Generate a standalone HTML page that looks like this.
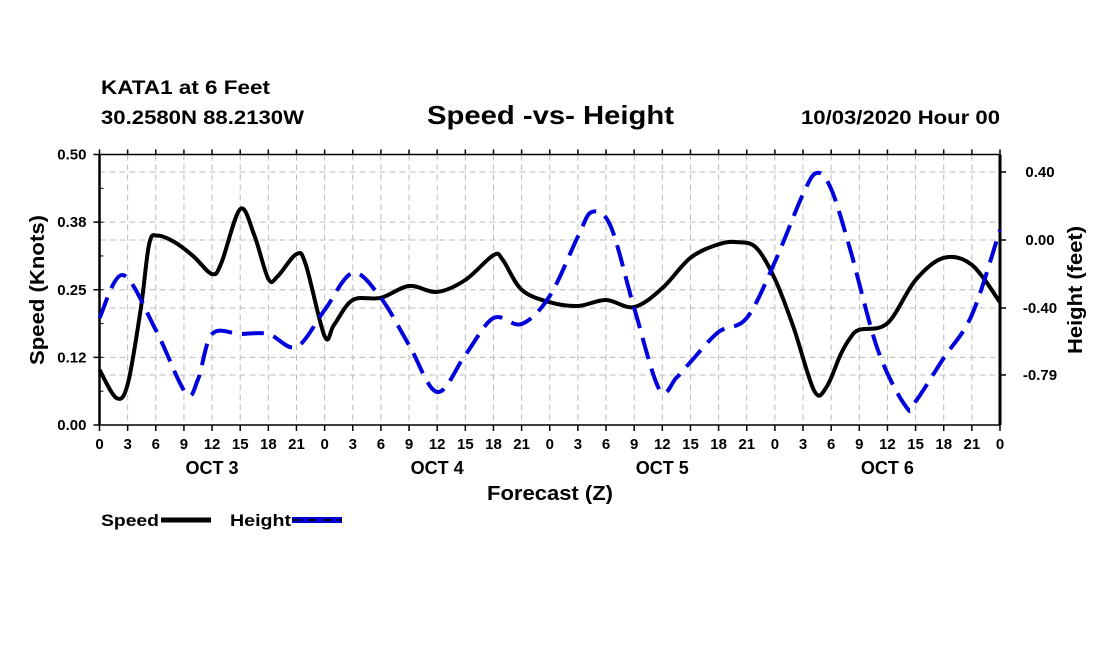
<!DOCTYPE html>
<html><head><meta charset="utf-8"><style>
body{margin:0;background:#fff}
svg text{font-family:"Liberation Sans",Arial,sans-serif;font-weight:bold;fill:#000}
</style></head><body>
<svg id="chart" width="1100" height="650" xmlns="http://www.w3.org/2000/svg">
<text x="101" y="94" font-size="19" textLength="169" lengthAdjust="spacingAndGlyphs">KATA1 at 6 Feet</text>
<text x="101" y="124" font-size="19" textLength="203" lengthAdjust="spacingAndGlyphs">30.2580N 88.2130W</text>
<text x="427" y="124" font-size="26" textLength="247" lengthAdjust="spacingAndGlyphs">Speed -vs- Height</text>
<text x="801" y="124" font-size="19" textLength="199" lengthAdjust="spacingAndGlyphs">10/03/2020 Hour 00</text>
<g id="grid"></g>
<g id="axes"></g>
<path id="speedLine" fill="none" stroke="#000" stroke-width="4"/>
<path id="heightLine" fill="none" stroke="#0000dd" stroke-width="4" stroke-dasharray="22 10"/>
<text transform="translate(44,290) rotate(-90)" font-size="20" text-anchor="middle" textLength="150" lengthAdjust="spacingAndGlyphs">Speed (Knots)</text>
<text transform="translate(1082,290) rotate(-90)" font-size="20" text-anchor="middle" textLength="128" lengthAdjust="spacingAndGlyphs">Height (feet)</text>
<text x="487" y="500" font-size="20" textLength="126" lengthAdjust="spacingAndGlyphs">Forecast (Z)</text>
<g>
<text x="101" y="526" font-size="17" textLength="58" lengthAdjust="spacingAndGlyphs">Speed</text>
<line x1="161" y1="520" x2="211" y2="520" stroke="#000" stroke-width="5"/>
<text x="230" y="526" font-size="17" textLength="61" lengthAdjust="spacingAndGlyphs">Height</text>
<rect x="292" y="517" width="50" height="6" fill="#0000dd"/>
<line x1="292" y1="520" x2="342" y2="520" stroke="#000" stroke-width="1.5" stroke-dasharray="10 5"/>
</g>
</svg>
<script>
const speedHours=[0,1.8,3,4.4,5.3,6.2,8,10,12,13,15,16.5,18,19,21,22,24,25,27,30,33,36,39,42,43,45,48,51,54,57,60,63,66,68,70,72,74,76.2,77.5,79,80,81,84,87,90,93,96];
const speedValues=[0.102,0.05,0.075,0.215,0.335,0.35,0.338,0.312,0.279,0.30,0.399,0.351,0.27,0.275,0.316,0.296,0.164,0.185,0.231,0.235,0.257,0.246,0.268,0.314,0.305,0.25,0.227,0.22,0.231,0.218,0.253,0.309,0.334,0.338,0.328,0.27,0.18,0.063,0.07,0.13,0.16,0.176,0.188,0.268,0.309,0.296,0.227];
const heightHours=[0,2.5,6,9.2,10.5,12,15,18,21,24,27,30,33,36,39,42,45,48,51,52.5,54.5,57,59.7,61.5,63,66,69,72,75,76.5,78,80,83,86,87,90,93,96];
const heightValues=[-0.459,-0.206,-0.529,-0.9,-0.82,-0.553,-0.553,-0.553,-0.629,-0.412,-0.194,-0.341,-0.618,-0.894,-0.676,-0.459,-0.494,-0.329,0.02,0.165,0.08,-0.4,-0.88,-0.81,-0.718,-0.541,-0.459,-0.129,0.27,0.395,0.3,-0.05,-0.65,-0.982,-0.95,-0.694,-0.441,0.059];
const leftTicks=[0,0.125,0.25,0.375,0.5];
const leftTickLabels=["0.00","0.12","0.25","0.38","0.50"];
const rightTicks=[-0.794,-0.4,0,0.4];
const rightTickLabels=["-0.79","-0.40","0.00","0.40"];
const dayLabels=["OCT 3","OCT 4","OCT 5","OCT 6"];

const X0=99.5,X1=1000,YT=154.5,YB=425;
const xs=h=>X0+(X1-X0)*h/96;
const yL=v=>YB-(YB-YT)*v/0.5;
const yR=v=>240-v*170;
const NS="http://www.w3.org/2000/svg";
function mk(tag,attrs,parent,txt){const e=document.createElementNS(NS,tag);for(const k in attrs)e.setAttribute(k,attrs[k]);if(txt!==undefined)e.textContent=txt;parent.appendChild(e);return e;}
const grid=document.getElementById('grid'),axes=document.getElementById('axes');
for(let h=3;h<96;h+=3){const l=mk('line',{x1:xs(h),x2:xs(h),y1:YT,y2:YB,stroke:'#bbb','stroke-dasharray':'6 4'},grid);

}
leftTicks.slice(1,4).forEach(v=>{const l=mk('line',{x1:X0,x2:X1,y1:yL(v),y2:yL(v),stroke:'#bbb','stroke-dasharray':'6 4'},grid);

});
rightTicks.forEach(v=>{const l=mk('line',{x1:X0,x2:X1,y1:yR(v),y2:yR(v),stroke:'#bbb','stroke-dasharray':'6 4'},grid);

});
mk('line',{x1:X0,x2:X0,y1:YT,y2:YB,stroke:'#000','stroke-width':2.5},axes);
mk('line',{x1:X1,x2:X1,y1:YT,y2:YB,stroke:'#000','stroke-width':3},axes);
mk('line',{x1:X0,x2:X1,y1:YT,y2:YT,stroke:'#000','stroke-width':1.5},axes);
mk('line',{x1:X0,x2:X1,y1:YB,y2:YB,stroke:'#000','stroke-width':1.5},axes);
for(let h=0;h<=96;h+=3){mk('line',{x1:xs(h),x2:xs(h),y1:YB,y2:YB+6,stroke:'#000','stroke-width':1.5},axes);
mk('line',{x1:xs(h),x2:xs(h),y1:YT-5,y2:YT,stroke:'#000','stroke-width':1.5},axes);
const t=mk('text',{x:xs(h),y:449,'font-size':15,'text-anchor':'middle'},axes,String(h%24));

}
dayLabels.forEach((d,i)=>{const t=mk('text',{x:xs(i*24+12),y:474,'font-size':18,'text-anchor':'middle'},axes,d);

});
leftTicks.forEach((v,i)=>{mk('line',{x1:X0-6,x2:X0,y1:yL(v),y2:yL(v),stroke:'#000','stroke-width':1.5},axes);
const t=mk('text',{x:X0-13,y:yL(v)+5,'font-size':15,'text-anchor':'end'},axes,leftTickLabels[i]);

});
for(let k=0;k<8;k++){const y=yL(0.0625*k+0.0625);mk('line',{x1:X0,x2:X0+4,y1:y,y2:y,stroke:'#000'},axes);}
rightTicks.forEach((v,i)=>{mk('line',{x1:X1,x2:X1+6,y1:yR(v),y2:yR(v),stroke:'#000','stroke-width':1.5},axes);
const t=mk('text',{x:1040,y:yR(v)+5,'font-size':15,'text-anchor':'middle'},axes,rightTickLabels[i]);

});
function smooth(pts){let d='M'+pts[0][0]+','+pts[0][1];for(let i=0;i<pts.length-1;i++){const p0=pts[Math.max(0,i-1)],p1=pts[i],p2=pts[i+1],p3=pts[Math.min(pts.length-1,i+2)];
d+=' C'+(p1[0]+(p2[0]-p0[0])/6)+','+(p1[1]+(p2[1]-p0[1])/6)+' '+(p2[0]-(p3[0]-p1[0])/6)+','+(p2[1]-(p3[1]-p1[1])/6)+' '+p2[0]+','+p2[1];}return d;}
document.getElementById('speedLine').setAttribute('d',smooth(speedHours.map((h,i)=>[xs(h),yL(speedValues[i])])));
document.getElementById('heightLine').setAttribute('d',smooth(heightHours.map((h,i)=>[xs(h),yR(heightValues[i])])));
</script>
</body></html>
